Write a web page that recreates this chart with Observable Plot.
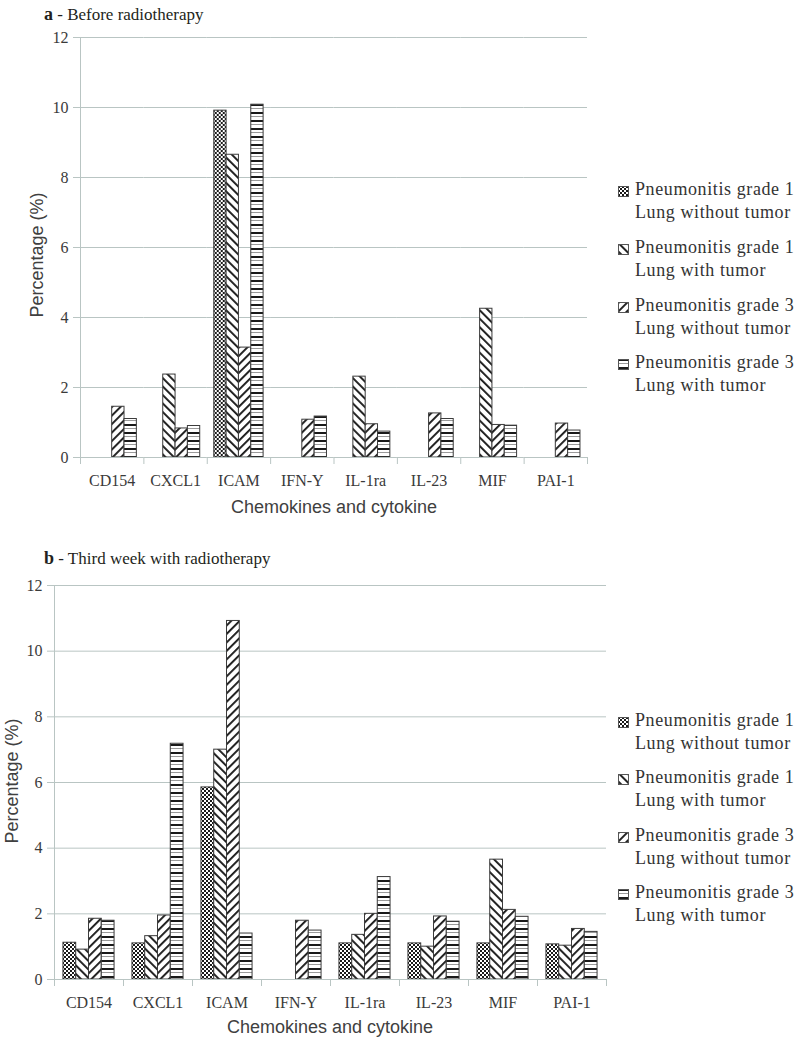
<!DOCTYPE html>
<html><head><meta charset="utf-8">
<script src="https://cdn.jsdelivr.net/npm/d3@7"></script>
<script src="https://cdn.jsdelivr.net/npm/@observablehq/plot@0.6"></script>
<style>
body{margin:0;background:#fff;}
#page{position:relative;width:797px;height:1041px;overflow:hidden;font-family:"Liberation Serif",serif;color:#3a3a3a;background:#fff}
.abs{position:absolute}
.title{font-size:17px;line-height:20px;color:#231f20;white-space:nowrap}
.title b{font-size:18px}
.ytitle{font-family:"Liberation Sans",Arial,sans-serif;font-size:18px;line-height:20px;color:#404040;white-space:nowrap;transform:translate(-50%,-50%) rotate(-90deg)}
.xtitle{font-family:"Liberation Sans",Arial,sans-serif;font-size:18px;line-height:20px;color:#404040;white-space:nowrap;transform:translate(-50%,-50%)}
.leg{font-size:18px;letter-spacing:0.6px;line-height:23px;white-space:nowrap;color:#333}
</style></head><body>
<svg width="0" height="0" style="position:absolute">
<defs>
<pattern id="p1" patternUnits="userSpaceOnUse" width="4" height="4"><rect width="4" height="4" fill="#fff"/><rect width="2" height="2" fill="#1a1a1a"/><rect x="2" y="2" width="2" height="2" fill="#1a1a1a"/></pattern>
<pattern id="p2" patternUnits="userSpaceOnUse" width="6" height="6" patternTransform="rotate(-45)"><rect width="6" height="6" fill="#fff"/><rect width="1.9" height="6" fill="#1a1a1a"/></pattern>
<pattern id="p3" patternUnits="userSpaceOnUse" width="6" height="6" patternTransform="rotate(45)"><rect width="6" height="6" fill="#fff"/><rect width="1.9" height="6" fill="#1a1a1a"/></pattern>
<pattern id="p4" patternUnits="userSpaceOnUse" width="8" height="8"><rect width="8" height="8" fill="#fff"/><rect width="8" height="2" fill="#1a1a1a"/><rect y="4" width="8" height="1" fill="#9a9a9a"/></pattern>
</defs></svg>
<div id="page"></div>
<script>
// ---- data ----
const categories = ["CD154","CXCL1","ICAM","IFN-Y","IL-1ra","IL-23","MIF","PAI-1"];
const seriesKeys = ["g1_without","g1_with","g3_without","g3_with"];
const seriesLine1 = ["Pneumonitis grade 1","Pneumonitis grade 1","Pneumonitis grade 3","Pneumonitis grade 3"];
const seriesLine2 = ["Lung without tumor","Lung with tumor","Lung without tumor","Lung with tumor"];
const yTicks = [0,2,4,6,8,10,12];

// a - Before radiotherapy
const before_g1_without = [null, null, 9.91, null, null, null, null, null];
const before_g1_with    = [null, 2.37, 8.65, null, 2.31, null, 4.25, null];
const before_g3_without = [1.45, 0.83, 3.14, 1.08, 0.95, 1.26, 0.93, 0.97];
const before_g3_with    = [1.10, 0.90, 10.08, 1.17, 0.74, 1.10, 0.91, 0.77];

// b - Third week with radiotherapy
const week3_g1_without = [1.12, 1.10, 5.85, null, 1.10, 1.10, 1.10, 1.07];
const week3_g1_with    = [0.91, 1.32, 7.00, null, 1.36, 1.00, 3.65, 1.03];
const week3_g3_without = [1.85, 1.95, 10.92, 1.79, 2.00, 1.92, 2.12, 1.54];
const week3_g3_with    = [1.79, 7.18, 1.40, 1.49, 3.12, 1.76, 1.91, 1.45];

const patternUrls = ["url(#p1)","url(#p2)","url(#p3)","url(#p4)"];
const gridColor = "#b9c5c3";
const textColor = "#3a3a3a";
const barStroke = "#3c3c3c";

function tidy(vals){
  const out = [];
  categories.forEach((c,i) => seriesKeys.forEach((s,j) => {
    const v = vals[j][i];
    if (v != null) out.push({category:c, series:s, value:v});
  }));
  return out;
}

function makeChart({vals, width, height, marginTop, marginBottom, marginLeft, marginRight, padOuter}){
  const data = tidy(vals);
  const plotH = height - marginTop - marginBottom;
  return Plot.plot({
    width, height, marginTop, marginBottom, marginLeft, marginRight,
    style: {fontFamily: '"Liberation Serif", serif', fontSize: "16px", color: textColor, background: "transparent", overflow: "visible"},
    fx: {domain: categories, padding: 0, round: false, label: null},
    x: {domain: seriesKeys, paddingInner: 0, paddingOuter: padOuter, round: false, axis: null},
    y: {domain: [0, 12], axis: null},
    color: {domain: seriesKeys, range: patternUrls},
    marks: [
      Plot.gridY(yTicks.filter(t => t > 0), {stroke: gridColor, strokeOpacity: 1}),
      Plot.barY(data, {fx: "category", x: "series", y: "value", fill: "series", stroke: barStroke, strokeWidth: 1}),
      Plot.ruleY([0], {stroke: gridColor}),
      Plot.frame({anchor: "left", facetAnchor: "left", stroke: gridColor}),
      Plot.frame({anchor: "left", stroke: gridColor, insetTop: plotH, insetBottom: -6}),
      Plot.frame({anchor: "right", facetAnchor: "right", stroke: gridColor, insetTop: plotH, insetBottom: -6}),
      Plot.axisY({ticks: yTicks, tickSize: 7, tickPadding: 5, stroke: gridColor, fill: textColor, label: null, tickFormat: d => String(d)}),
      Plot.axisFx({anchor: "bottom", tickSize: 0, tickPadding: 17, label: null, fill: textColor})
    ]
  });
}

const page = document.getElementById("page");
function add(html, cls, left, top){
  const d = document.createElement("div");
  d.className = "abs " + cls;
  d.style.left = left + "px"; d.style.top = top + "px";
  d.innerHTML = html;
  page.appendChild(d);
  return d;
}
function placeSvg(svg, left, top){
  const w = document.createElement("div");
  w.className = "abs"; w.style.left = left + "px"; w.style.top = top + "px";
  w.appendChild(svg); page.appendChild(w);
}
function legend(left, firstCenters){
  seriesKeys.forEach((k,i) => {
    const c = firstCenters[i];
    add(`<svg width="11" height="11"><rect x="0.5" y="0.5" width="10" height="10" fill="${patternUrls[i]}" stroke="#555"/></svg>`, "", left, c - 6);
    add(`${seriesLine1[i]}<br>${seriesLine2[i]}`, "leg", left + 17, c - 11.5);
  });
}

// Chart a
const chartA = makeChart({vals: [before_g1_without, before_g1_with, before_g3_without, before_g3_with],
  width: 600, height: 520, marginTop: 37, marginBottom: 63, marginLeft: 80, marginRight: 13, padOuter: 0.57});
placeSvg(chartA, 0, 0);
add("<b>a</b> - Before radiotherapy", "title", 44, 4);
add("Percentage (%)", "ytitle", 37, 255);
add("Chemokines and cytokine", "xtitle", 334, 507);
legend(618, [189, 247, 305, 362]);

// Chart b
const chartB = makeChart({vals: [week3_g1_without, week3_g1_with, week3_g3_without, week3_g3_with],
  width: 620, height: 481, marginTop: 25, marginBottom: 62, marginLeft: 54, marginRight: 14, padOuter: 0.7});
placeSvg(chartB, 0, 560);
add("<b>b</b> - Third week with radiotherapy", "title", 44, 548);
add("Percentage (%)", "ytitle", 12, 781);
add("Chemokines and cytokine", "xtitle", 330, 1027);
legend(618, [720, 777, 835, 892]);
</script></body></html>
